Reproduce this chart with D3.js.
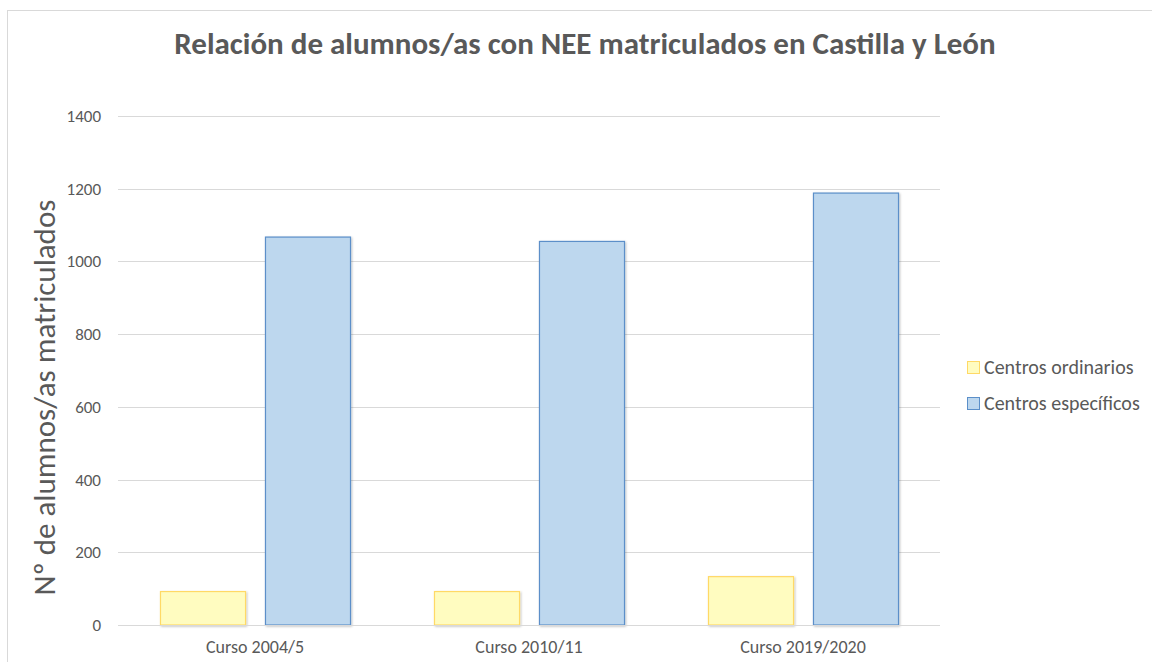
<!DOCTYPE html>
<html>
<head>
<meta charset="utf-8">
<script src="https://cdn.jsdelivr.net/npm/d3@7"></script>
<style>
  html, body { margin: 0; padding: 0; background: #fff; }
  svg { display: block; font-family: Carlito, Calibri, "Open Sans", sans-serif; }
</style>
</head>
<body>
<div id="chart"></div>
<script>
(function () {
  'use strict';

  // --- data ---
  const CATEGORIES = ['Curso 2004/5', 'Curso 2010/11', 'Curso 2019/2020'];
  const SERIES = ['Centros ordinarios', 'Centros específicos'];
  const ORDINARIOS = [92, 92, 133];
  const ESPECIFICOS = [1067, 1055, 1188];
  const Y_TICKS = [0, 200, 400, 600, 800, 1000, 1200, 1400];

  const FILLS = ['#FFFCC0', '#BDD7EE'];
  const STROKES = ['#FFD966', '#5B8FC9'];
  const TEXT = '#595959';
  const FONT = 'Carlito, Calibri, "Open Sans", sans-serif';

  const W = 1152, H = 662;
  const margin = { top: 116, right: 212, bottom: 37, left: 118 };

  const svg = d3.select('#chart').append('svg')
    .attr('width', W).attr('height', H);

  // soft shadow behind bars
  const defs = svg.append('defs');
  const f = defs.append('filter').attr('id', 'shadow')
    .attr('x', '-10%').attr('y', '-10%').attr('width', '130%').attr('height', '130%');
  f.append('feDropShadow').attr('dx', 1).attr('dy', 1).attr('stdDeviation', 1)
    .attr('flood-color', '#000').attr('flood-opacity', 0.25);

  // chart frame (cropped at right and bottom)
  svg.append('rect')
    .attr('x', 7.5).attr('y', 10.5).attr('width', W + 20).attr('height', H + 20)
    .attr('fill', 'none').attr('stroke', '#D9D9D9');

  const x0 = d3.scaleBand().domain(CATEGORIES)
    .range([margin.left, W - margin.right]);
  const x1 = d3.scaleBand().domain(SERIES)
    .range([0, x0.bandwidth()]).paddingInner(0.19).paddingOuter(0.4);
  const y = d3.scaleLinear().domain([0, 1400])
    .range([H - margin.bottom, margin.top]);

  // gridlines
  svg.append('g').selectAll('line').data(Y_TICKS.slice(1)).join('line')
    .attr('x1', margin.left).attr('x2', W - margin.right)
    .attr('y1', d => Math.round(y(d)) + 0.5).attr('y2', d => Math.round(y(d)) + 0.5)
    .attr('stroke', '#D9D9D9').attr('stroke-width', 1);

  // y tick labels
  const yAxis = svg.append('g')
    .attr('transform', `translate(${margin.left - 17},0)`)
    .call(d3.axisLeft(y).tickValues(Y_TICKS).tickFormat(d3.format('d')).tickSize(0).tickPadding(0));
  yAxis.select('.domain').remove();
  yAxis.selectAll('text').attr('fill', TEXT).attr('font-size', 17)
    .style('font-family', FONT);

  // bars
  const table = CATEGORIES.map((c, i) => ({ cat: c, vals: [ORDINARIOS[i], ESPECIFICOS[i]] }));
  const groups = svg.append('g').selectAll('g').data(table).join('g')
    .attr('transform', d => `translate(${x0(d.cat)},0)`);
  groups.selectAll('rect')
    .data(d => d.vals.map((v, k) => ({ series: SERIES[k], k, v })))
    .join('rect')
    .attr('x', d => x1(d.series) + 0.5)
    .attr('y', d => y(d.v))
    .attr('width', x1.bandwidth())
    .attr('height', d => y(0) - y(d.v))
    .attr('fill', d => FILLS[d.k])
    .attr('stroke', d => STROKES[d.k])
    .attr('stroke-width', 1.2)
    .attr('filter', 'url(#shadow)');

  // baseline
  svg.append('line')
    .attr('x1', margin.left).attr('x2', W - margin.right)
    .attr('y1', Math.round(y(0)) + 0.5).attr('y2', Math.round(y(0)) + 0.5)
    .attr('stroke', '#D9D9D9').attr('stroke-width', 1.2);

  // x labels
  const xAxis = svg.append('g')
    .attr('transform', `translate(0,${y(0) + 15})`)
    .call(d3.axisBottom(x0).tickSize(0).tickPadding(0));
  xAxis.select('.domain').remove();
  xAxis.selectAll('text').attr('fill', TEXT).attr('font-size', 18)
    .style('font-family', FONT);

  // title
  svg.append('text')
    .attr('x', 585).attr('y', 54)
    .attr('text-anchor', 'middle')
    .attr('fill', TEXT).attr('font-size', 31).attr('font-weight', 700)
    .text('Relación de alumnos/as con NEE matriculados en Castilla y León');

  // y axis title
  svg.append('text')
    .attr('transform', `translate(55,${(margin.top + y(0)) / 2 + 27}) rotate(-90)`)
    .attr('text-anchor', 'middle')
    .attr('fill', TEXT).attr('font-size', 31)
    .text('Nº de alumnos/as matriculados');

  // legend
  const legend = svg.append('g').attr('transform', 'translate(967,361)');
  SERIES.forEach((s, k) => {
    const g = legend.append('g').attr('transform', `translate(0,${k * 36})`);
    g.append('rect').attr('x', 0.5).attr('y', 0.5).attr('width', 12).attr('height', 12)
      .attr('fill', FILLS[k]).attr('stroke', STROKES[k]);
    g.append('text').attr('x', 17).attr('y', 13)
      .attr('fill', TEXT).attr('font-size', 20).text(s);
  });
})();
</script>
</body>
</html>
